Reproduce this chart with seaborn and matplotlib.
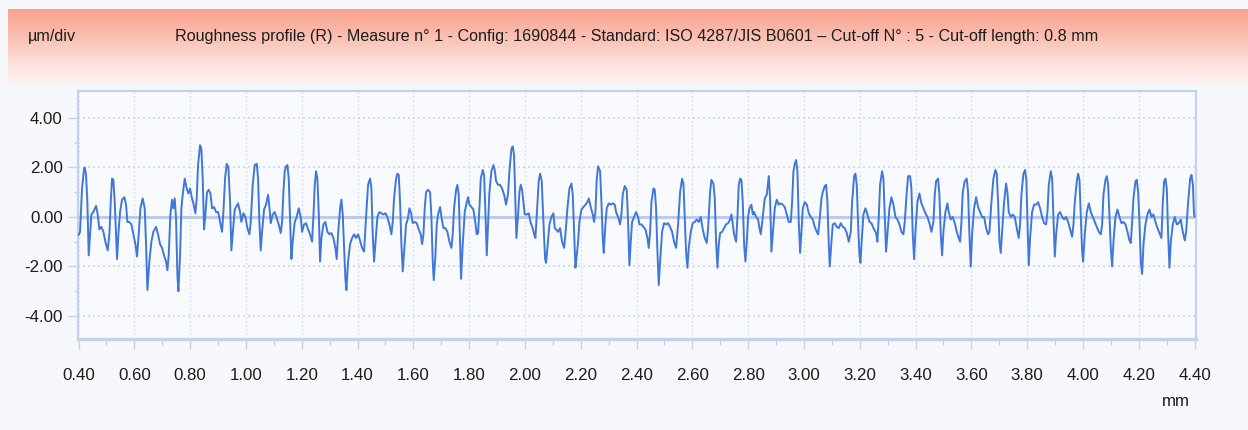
import matplotlib
matplotlib.use("Agg")
import matplotlib.pyplot as plt
import numpy as np
import pandas as pd
import seaborn as sns
from matplotlib import font_manager as fm
from matplotlib.colors import LinearSegmentedColormap

# ---------------- data ----------------
title_text = ("Roughness profile (R) - Measure n\u00b0 1 - Config: 1690844 - Standard: ISO 4287/JIS B0601 "
              "\u2013 Cut-off N\u00b0 : 5 - Cut-off length: 0.8 mm")
unit_text = "\u00b5m/div"
x_unit = "mm"

x_ticks = [0.40, 0.60, 0.80, 1.00, 1.20, 1.40, 1.60, 1.80, 2.00, 2.20, 2.40,
           2.60, 2.80, 3.00, 3.20, 3.40, 3.60, 3.80, 4.00, 4.20, 4.40]
y_ticks = [-4.0, -2.0, 0.0, 2.0, 4.0]

seg1_x = [0.4000, 0.4053, 0.4125, 0.4197, 0.4221, 0.4268, 0.4316, 0.4364, 0.4412, 0.4460, 0.4531, 0.4627, 0.4687, 0.4746, 0.4818, 0.4890, 0.4961, 0.5045, 0.5105, 0.5153, 0.5200, 0.5248, 0.5296, 0.5344, 0.5380, 0.5427, 0.5487, 0.5559, 0.5642, 0.5702, 0.5750, 0.5822, 0.5893, 0.5965, 0.6037, 0.6096, 0.6156, 0.6216, 0.6299, 0.6371, 0.6419, 0.6467, 0.6538, 0.6610, 0.6682, 0.6777, 0.6849, 0.6921, 0.6992, 0.7064, 0.7136, 0.7184, 0.7231, 0.7291, 0.7351, 0.7399, 0.7446, 0.7494, 0.7542, 0.7578, 0.7638, 0.7685, 0.7733, 0.7805, 0.7877, 0.7936, 0.7996, 0.8056, 0.8115, 0.8187, 0.8235, 0.8283, 0.8354, 0.8402, 0.8450, 0.8498, 0.8546, 0.8605, 0.8665, 0.8725, 0.8785, 0.8856, 0.8928, 0.9000, 0.9071, 0.9143, 0.9191, 0.9251, 0.9310, 0.9370, 0.9430, 0.9477, 0.9525, 0.9597]
seg1_y = [-0.73, -0.6, 1.15, 1.95, 2.0, 1.7, 0.6, -1.55, -0.7, 0.1, 0.2, 0.45, 0.1, -0.5, -0.4, -0.6, -1.0, -1.35, -0.7, 0.6, 1.55, 1.5, 0.6, -0.7, -1.7, -0.7, 0.2, 0.7, 0.8, 0.5, -0.2, -0.2, -0.3, -0.7, -1.1, -1.6, -0.7, 0.35, 0.75, 0.35, -1.1, -2.95, -1.8, -1.0, -0.6, -0.4, -0.7, -1.1, -1.25, -1.55, -1.8, -2.15, -1.55, 0.1, 0.7, 0.35, 0.75, -0.05, -2.35, -3.0, -1.55, 0.35, 0.9, 1.55, 1.15, 0.95, 1.15, 0.8, 0.55, 0.15, 0.75, 2.1, 2.9, 2.75, 1.55, -0.5, 0.1, 1.0, 1.1, 0.95, 0.35, 0.4, 0.2, 0.2, -0.2, -0.6, 0.2, 1.55, 2.15, 2.0, 0.6, -1.35, -0.7, 0.3]

seg2_x = [0.9645, 0.9717, 0.9788, 0.9836, 0.9908, 0.9980, 1.0051, 1.0123, 1.0171, 1.0242, 1.0314, 1.0386, 1.0434, 1.0481, 1.0529, 1.0577, 1.0649, 1.0720, 1.0792, 1.0840, 1.0888, 1.0959, 1.1031, 1.1103, 1.1174, 1.1246, 1.1294, 1.1342, 1.1389, 1.1437, 1.1485, 1.1533, 1.1580, 1.1628, 1.1676, 1.1748, 1.1819, 1.1891, 1.1963, 1.2011, 1.2082, 1.2154, 1.2226, 1.2297, 1.2369, 1.2417, 1.2465, 1.2512, 1.2560, 1.2608, 1.2656, 1.2704, 1.2775, 1.2847, 1.2919, 1.2990, 1.3062, 1.3134, 1.3205, 1.3253, 1.3301, 1.3373, 1.3420, 1.3468, 1.3516, 1.3564, 1.3600, 1.3659, 1.3731, 1.3803, 1.3874, 1.3946, 1.4018, 1.4089, 1.4161, 1.4233, 1.4304, 1.4376, 1.4448, 1.4496, 1.4543, 1.4591, 1.4639, 1.4711, 1.4782, 1.4854, 1.4926, 1.4997, 1.5069, 1.5141, 1.5212, 1.5260, 1.5308]
seg2_y = [0.4, 0.55, 0.2, -0.2, 0.15, 0.0, -0.45, -0.7, -0.2, 1.3, 2.1, 2.15, 1.55, -0.2, -1.35, -0.6, 0.3, 0.5, 0.9, 0.4, -0.25, 0.1, 0.2, -0.05, -0.3, -0.65, -0.2, 1.0, 1.85, 2.05, 2.1, 1.55, 0.0, -1.7, -1.0, -0.2, 0.0, 0.35, 0.0, -0.6, -0.3, -0.25, -0.5, -0.7, -1.0, 0.0, 1.3, 1.85, 1.55, 0.2, -1.8, -0.85, -0.3, -0.2, -0.6, -0.7, -0.65, -0.85, -1.25, -1.7, -0.7, 0.35, 0.7, 0.1, -1.25, -2.5, -2.95, -1.8, -1.1, -0.85, -0.7, -0.85, -0.7, -0.95, -1.25, -1.4, 0.0, 1.3, 1.55, 1.15, -0.7, -1.8, -1.1, 0.0, 0.2, 0.15, 0.1, 0.15, 0.0, -0.3, -0.7, -0.2, 0.75]

seg3_x = [1.5380, 1.5428, 1.5476, 1.5523, 1.5571, 1.5619, 1.5679, 1.5738, 1.5798, 1.5858, 1.5918, 1.5977, 1.6049, 1.6121, 1.6192, 1.6264, 1.6312, 1.6360, 1.6407, 1.6455, 1.6527, 1.6599, 1.6646, 1.6694, 1.6730, 1.6790, 1.6838, 1.6885, 1.6957, 1.7005, 1.7077, 1.7148, 1.7220, 1.7292, 1.7363, 1.7411, 1.7459, 1.7531, 1.7578, 1.7626, 1.7674, 1.7710, 1.7769, 1.7841, 1.7913, 1.7961, 1.8008, 1.8080, 1.8152, 1.8223, 1.8271, 1.8319, 1.8367, 1.8415, 1.8486, 1.8534, 1.8582, 1.8630, 1.8677, 1.8725, 1.8797, 1.8869, 1.8916, 1.8964, 1.9036, 1.9108, 1.9179, 1.9251, 1.9323, 1.9394, 1.9442, 1.9514, 1.9562, 1.9609, 1.9657, 1.9693, 1.9753, 1.9801, 1.9848, 1.9896, 1.9944, 1.9992, 2.0063, 2.0135, 2.0207, 2.0278, 2.0326, 2.0374, 2.0422, 2.0493, 2.0541, 2.0601, 2.0661, 2.0721, 2.0756, 2.0816, 2.0876, 2.0947, 2.1019, 2.1067]
seg3_y = [1.55, 1.75, 1.7, 0.6, -1.1, -2.2, -1.25, -0.3, -0.1, 0.35, 0.15, -0.25, -0.2, -0.25, -0.5, -0.7, -1.1, -0.7, 0.35, 1.0, 1.1, 1.0, 0.0, -1.8, -2.55, -1.55, -0.3, 0.1, 0.4, 0.0, -0.45, -0.45, -0.6, -1.0, -1.25, -0.7, 0.35, 1.1, 1.3, 0.9, -1.1, -2.5, -1.1, 0.2, 0.6, 0.8, 0.5, 0.4, 0.3, -0.25, -0.7, -0.65, 0.35, 1.55, 1.9, 1.7, 0.2, -1.55, -0.3, 1.0, 1.85, 2.1, 1.9, 1.45, 1.3, 1.3, 1.15, 0.9, 0.5, 0.95, 1.85, 2.75, 2.85, 2.5, 0.6, -0.85, 0.1, 1.0, 1.3, 1.1, 0.6, 0.1, 0.1, 0.15, -0.25, -0.45, -0.7, -0.85, 0.1, 1.45, 1.75, 1.45, -0.2, -1.7, -1.85, -1.1, -0.3, 0.0, 0.15, -0.45]

seg4_x = [2.1115, 2.1187, 2.1258, 2.1330, 2.1402, 2.1450, 2.1521, 2.1593, 2.1665, 2.1712, 2.1760, 2.1808, 2.1856, 2.1904, 2.1951, 2.2023, 2.2095, 2.2166, 2.2238, 2.2286, 2.2358, 2.2429, 2.2477, 2.2525, 2.2573, 2.2620, 2.2692, 2.2740, 2.2788, 2.2823, 2.2883, 2.2931, 2.3003, 2.3074, 2.3146, 2.3218, 2.3266, 2.3337, 2.3409, 2.3457, 2.3504, 2.3576, 2.3648, 2.3696, 2.3743, 2.3791, 2.3839, 2.3911, 2.3982, 2.4054, 2.4102, 2.4174, 2.4245, 2.4317, 2.4389, 2.4436, 2.4484, 2.4532, 2.4604, 2.4651, 2.4699, 2.4747, 2.4795, 2.4843, 2.4914, 2.4986, 2.5058, 2.5129, 2.5201, 2.5273, 2.5344, 2.5416, 2.5488, 2.5559, 2.5631, 2.5679, 2.5727, 2.5774, 2.5822, 2.5870, 2.5942, 2.6013, 2.6085, 2.6157, 2.6228, 2.6300, 2.6372, 2.6444, 2.6515, 2.6563, 2.6635, 2.6682, 2.6754, 2.6802]
seg4_y = [-0.5, -0.6, -0.45, -1.0, -1.25, -0.7, 0.35, 1.15, 1.35, 0.9, -0.6, -2.05, -1.55, -1.0, -0.2, 0.3, 0.4, 0.5, 0.6, 0.75, 0.4, 0.1, -0.2, 0.2, 1.55, 2.05, 1.85, 0.6, -0.85, -1.45, -0.3, 0.35, 0.55, 0.5, 0.55, 0.5, 0.2, 0.0, -0.3, 0.1, 0.9, 1.25, 1.1, -0.2, -1.95, -1.0, -0.2, 0.0, 0.2, 0.0, -0.3, -0.3, -0.4, -0.5, -0.85, -1.25, -0.6, 0.6, 1.15, 1.1, 0.35, -1.4, -2.75, -1.8, -0.6, -0.25, -0.3, -0.25, -0.4, -0.6, -1.0, -1.25, -0.3, 1.0, 1.55, 1.35, 0.0, -1.4, -2.05, -1.25, -0.6, -0.25, -0.2, -0.1, -0.2, 0.0, -0.5, -0.85, -1.05, -0.45, 1.0, 1.5, 1.35, 0.75]

seg5_x = [2.6850, 2.6898, 2.6946, 2.6993, 2.7065, 2.7137, 2.7208, 2.7280, 2.7352, 2.7400, 2.7447, 2.7495, 2.7567, 2.7615, 2.7662, 2.7710, 2.7758, 2.7806, 2.7854, 2.7901, 2.7949, 2.7997, 2.8045, 2.8116, 2.8164, 2.8212, 2.8284, 2.8356, 2.8403, 2.8451, 2.8523, 2.8594, 2.8666, 2.8738, 2.8785, 2.8833, 2.8881, 2.8953, 2.9024, 2.9096, 2.9168, 2.9239, 2.9311, 2.9383, 2.9454, 2.9526, 2.9574, 2.9622, 2.9670, 2.9717, 2.9765, 2.9813, 2.9861, 2.9909, 2.9956, 3.0028, 3.0100, 3.0171, 3.0243, 3.0315, 3.0386, 3.0458, 3.0506, 3.0554, 3.0625, 3.0673, 3.0745, 3.0793, 3.0840, 3.0888, 3.0924, 3.0984, 3.1032, 3.1103, 3.1175, 3.1247, 3.1318, 3.1390, 3.1462, 3.1533, 3.1605, 3.1677, 3.1725, 3.1796, 3.1844, 3.1892, 3.1940, 3.1987, 3.2023, 3.2083, 3.2131, 3.2202, 3.2274, 3.2346, 3.2417, 3.2489, 3.2561]
seg5_y = [-1.0, -2.05, -1.1, -0.65, -0.6, -0.45, -0.3, -0.25, -0.1, 0.1, -0.3, -0.7, -1.0, 0.0, 1.3, 1.55, 1.5, 0.6, -1.1, -1.8, -1.0, 0.0, 0.35, 0.5, 0.1, 0.2, 0.0, -0.1, -0.45, -0.7, 0.0, 0.75, 0.9, 1.65, 0.75, -1.4, -0.7, 0.35, 0.7, 0.5, 0.55, 0.5, 0.4, 0.1, -0.2, -0.2, 0.6, 1.85, 2.15, 2.3, 1.85, -0.2, -1.45, -0.6, 0.35, 0.6, 0.5, 0.15, 0.0, -0.1, -0.4, -0.6, -0.7, -0.2, 0.75, 1.0, 1.25, 1.3, 0.6, -1.1, -2.0, -1.0, -0.3, -0.25, -0.4, -0.45, -0.25, -0.4, -0.45, -0.65, -1.0, -0.6, 0.6, 1.65, 1.75, 1.3, -0.3, -1.55, -1.85, -0.7, 0.1, 0.35, 0.1, -0.2, -0.25, -0.45, -0.6]

seg6_x = [3.2584, 3.2632, 3.2680, 3.2727, 3.2799, 3.2847, 3.2895, 3.2942, 3.2990, 3.3062, 3.3134, 3.3205, 3.3277, 3.3349, 3.3420, 3.3492, 3.3564, 3.3611, 3.3683, 3.3731, 3.3803, 3.3850, 3.3898, 3.3946, 3.3994, 3.4065, 3.4137, 3.4209, 3.4281, 3.4352, 3.4424, 3.4496, 3.4567, 3.4639, 3.4687, 3.4735, 3.4806, 3.4854, 3.4902, 3.4950, 3.4997, 3.5069, 3.5141, 3.5188, 3.5260, 3.5332, 3.5404, 3.5475, 3.5547, 3.5595, 3.5643, 3.5690, 3.5762, 3.5834, 3.5881, 3.5929, 3.5977, 3.6025, 3.6097, 3.6168, 3.6240, 3.6312, 3.6383, 3.6455, 3.6527, 3.6598, 3.6646, 3.6718, 3.6789, 3.6861, 3.6909, 3.6957, 3.7005, 3.7052, 3.7100, 3.7172, 3.7243, 3.7291, 3.7339, 3.7411, 3.7482, 3.7554, 3.7626, 3.7697, 3.7745, 3.7793, 3.7865, 3.7925, 3.7972, 3.8020, 3.8056, 3.8104, 3.8175, 3.8247]
seg6_y = [-0.65, -1.0, 0.0, 1.3, 1.85, 1.55, 0.0, -1.4, -0.7, 0.35, 0.8, 0.5, 0.0, -0.1, -0.3, -0.6, -0.7, -0.2, 1.0, 1.65, 1.65, 1.15, -0.7, -1.7, -0.6, 0.6, 0.95, 0.55, 0.35, 0.15, 0.0, -0.25, -0.6, -0.2, 0.9, 1.45, 1.55, 0.9, -0.7, -1.55, -0.6, 0.2, 0.55, 0.2, -0.1, 0.0, -0.25, -0.6, -0.85, -1.0, -0.2, 1.0, 1.45, 1.55, 1.0, -0.7, -2.0, -0.7, 0.35, 0.8, 0.4, 0.2, 0.0, 0.0, -0.45, -0.7, -0.6, 0.6, 1.55, 1.9, 1.75, 0.6, -1.0, -1.45, -0.6, 0.6, 1.35, 1.0, 0.2, 0.0, 0.1, 0.0, -0.45, -0.85, -0.3, 0.9, 1.75, 1.9, 1.45, -0.6, -1.95, -0.85, 0.2, 0.5]

seg7_x = [3.8320, 3.8392, 3.8463, 3.8535, 3.8607, 3.8678, 3.8726, 3.8774, 3.8846, 3.8893, 3.8941, 3.8989, 3.9037, 3.9109, 3.9180, 3.9252, 3.9324, 3.9395, 3.9467, 3.9539, 3.9610, 3.9658, 3.9706, 3.9778, 3.9825, 3.9873, 3.9921, 3.9969, 4.0005, 4.0064, 4.0136, 4.0208, 4.0279, 4.0351, 4.0423, 4.0494, 4.0566, 4.0638, 4.0686, 4.0733, 4.0805, 4.0853, 4.0901, 4.0948, 4.0996, 4.1044, 4.1092, 4.1163, 4.1235, 4.1307, 4.1379, 4.1450, 4.1522, 4.1594, 4.1665, 4.1713, 4.1761, 4.1809, 4.1880, 4.1928, 4.1976, 4.2024, 4.2071, 4.2119, 4.2167, 4.2239, 4.2310, 4.2382, 4.2454, 4.2525, 4.2597, 4.2669, 4.2741, 4.2812, 4.2860, 4.2908, 4.2956, 4.3003, 4.3051, 4.3099, 4.3147, 4.3218, 4.3290, 4.3362, 4.3433, 4.3505, 4.3577, 4.3649, 4.3696, 4.3768, 4.3840, 4.3887, 4.3940, 4.3975, 4.4000]
seg7_y = [0.5, 0.6, 0.35, 0.0, -0.25, -0.3, 0.2, 1.3, 1.85, 1.55, 0.0, -1.6, -0.7, 0.1, 0.2, 0.0, -0.1, 0.0, -0.2, -0.5, -0.8, -0.3, 0.6, 1.45, 1.75, 1.5, 0.0, -1.4, -1.8, -0.7, 0.2, 0.55, 0.2, 0.0, -0.2, -0.4, -0.6, -0.7, -0.3, 0.9, 1.5, 1.65, 1.3, 0.0, -1.25, -2.0, -1.0, 0.0, 0.3, 0.0, -0.25, -0.2, -0.3, -0.6, -0.95, -1.05, -0.2, 0.75, 1.45, 1.5, 1.0, -0.2, -1.8, -2.3, -1.1, -0.3, 0.1, 0.3, 0.0, 0.1, -0.2, -0.45, -0.65, -0.85, 0.6, 1.45, 1.55, 1.15, -0.7, -2.05, -1.0, -0.3, 0.0, -0.3, -0.25, -0.1, -0.6, -0.95, -0.6, 0.6, 1.55, 1.7, 1.3, 0.2, 0.0]

# ---------------- style ----------------
BG = "#F6F8FC"
PLOT_BG = "#F8FAFE"
LINE = "#4177D6"
GRID = "#CBD6EC"
SPINE = "#C3D1EC"
ZERO = "#BCCBEA"
TXT = "#1C1C1C"

sns.set_theme(style="white")
names = {f.name for f in fm.fontManager.ttflist}
FONT = "Liberation Sans" if "Liberation Sans" in names else "DejaVu Sans"
ARIAL = FONT == "Liberation Sans"
plt.rcParams["font.family"] = [FONT, "DejaVu Sans"]

W, H = 1248, 430
fig = plt.figure(figsize=(W / 100, H / 100), dpi=100, facecolor=BG)

def fx(px):
    return px / W

def fy(py):
    return 1 - py / H

# header band with vertical gradient
hax = fig.add_axes([fx(8), fy(84), 1 - fx(8), (84 - 9) / H])
cmap = LinearSegmentedColormap.from_list(
    "hdr", [(0.0, "#F8A08B"), (0.45, "#FBC7BB"), (0.8, "#FDE6E1"), (1.0, "#FBF1F0")])
grad = np.linspace(0, 1, 256).reshape(-1, 1)
hax.imshow(grad, aspect="auto", cmap=cmap, extent=[0, 1, 0, 1], origin="upper")
hax.set_axis_off()

title_size = 11.6 if ARIAL else 10.4
fig.text(fx(28), fy(37), unit_text, ha="left", va="center", fontsize=title_size, color=TXT)
fig.text(fx(637), fy(37), title_text, ha="center", va="center", fontsize=title_size, color=TXT)

# main plot
ax = fig.add_axes([fx(78), fy(339), fx(1196) - fx(78), (339 - 91) / H])
ax.set_facecolor(PLOT_BG)

profile_mm = seg1_x + seg2_x + seg3_x + seg4_x + seg5_x + seg6_x + seg7_x
profile_um = seg1_y + seg2_y + seg3_y + seg4_y + seg5_y + seg6_y + seg7_y
df = pd.DataFrame({"mm": profile_mm, "um": profile_um})

ax.axhline(0, color=ZERO, lw=2.2, zorder=1)
sns.lineplot(data=df, x="mm", y="um", ax=ax, color=LINE, linewidth=1.4,
             sort=False, estimator=None, zorder=3)

ax.set_xlim(0.398, 4.405)
ax.set_ylim(-4.93, 5.09)

ax.set_xticks(x_ticks)
ax.set_xticklabels([f"{v:.2f}" for v in x_ticks])
ax.set_xticks(np.round(np.arange(0.5, 4.4, 0.2), 2), minor=True)
ax.set_yticks(y_ticks)
ax.set_yticklabels([f"{v:.2f}" for v in y_ticks])
ax.set_yticks([-3, -1, 1, 3], minor=True)

tick_size = 12.2 if ARIAL else 11.5
ax.tick_params(axis="x", which="major", length=7, width=1, color=SPINE,
               pad=14, labelsize=tick_size, labelcolor=TXT, direction="out", bottom=True)
ax.tick_params(axis="x", which="minor", length=4, width=1, color=SPINE,
               direction="out", bottom=True)
ax.tick_params(axis="y", which="major", length=7, width=1, color=SPINE,
               pad=4, labelsize=tick_size, labelcolor=TXT, direction="out", left=True)
ax.tick_params(axis="y", which="minor", length=3, width=1, color=SPINE,
               direction="out", left=True)

ax.grid(True, which="major", axis="x", color="#D6DFF0", linestyle=(0, (1.2, 1.8)), lw=1.0, zorder=0)
ax.grid(True, which="major", axis="y", color=GRID, linestyle=(0, (1.2, 1.8)), lw=1.2, zorder=0)
ax.set_axisbelow(True)

for side, sp in ax.spines.items():
    sp.set_visible(True)
    sp.set_color(SPINE)
    sp.set_linewidth(1.6)
ax.spines["bottom"].set_linewidth(2.4)

ax.set_xlabel("")
ax.set_ylabel("")
fig.text(fx(1176), fy(401), x_unit, ha="center", va="center", fontsize=tick_size, color=TXT)

fig.savefig("out.png", dpi=100, facecolor=BG)
